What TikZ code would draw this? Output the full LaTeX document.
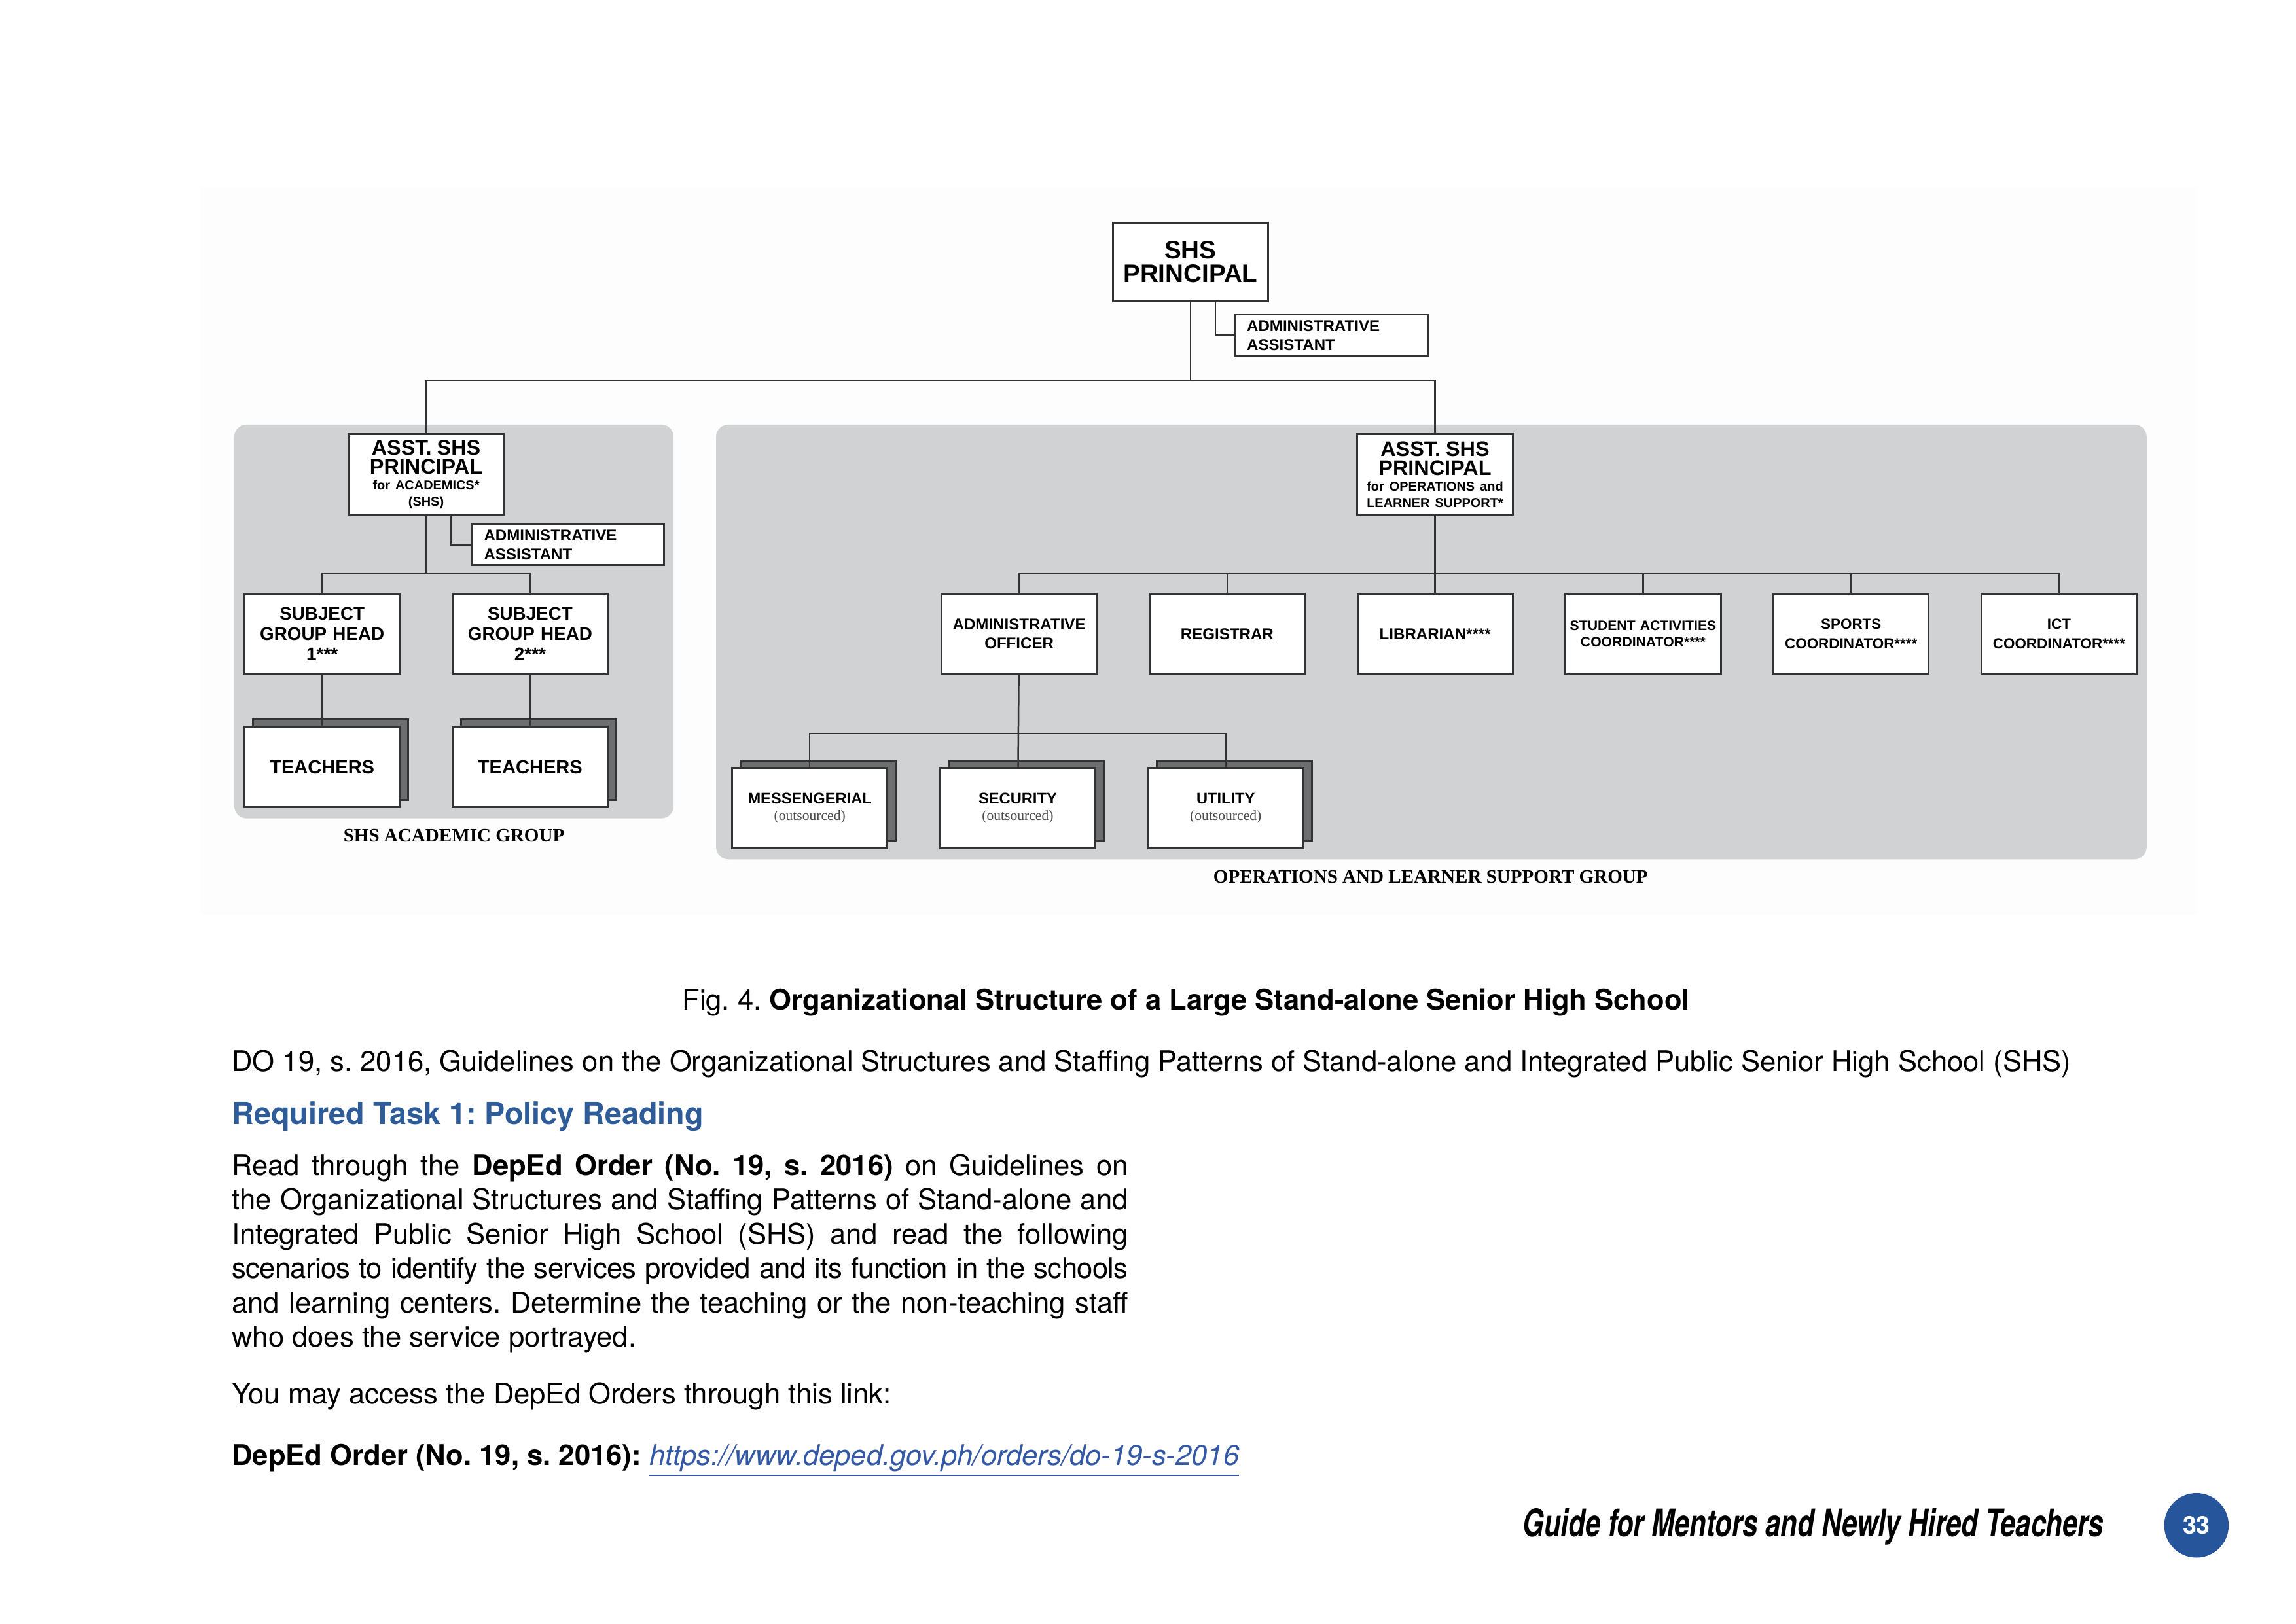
\documentclass[tikz,border=0pt]{standalone}
\usepackage{fontspec}
\setmainfont{TeX Gyre Heros}
\newfontfamily\boxfont{Liberation Sans}
\newfontfamily\slabfont{Liberation Serif}
\newfontfamily\tightfont[LetterSpace=-1.5]{TeX Gyre Heros}
\usepackage{xcolor}
\usepackage{graphicx}
\usetikzlibrary{positioning, shadows}
\definecolor{panelgray}{HTML}{D1D2D4}
\definecolor{shadowgray}{HTML}{6D6E70}
\definecolor{linegray}{HTML}{333333}
\definecolor{headblue}{HTML}{2E5C99}
\definecolor{linkblue}{HTML}{3358A6}
\definecolor{pageblue}{HTML}{26559B}
\newcommand{\setfs}[2]{\fontsize{#1}{#2}\selectfont}
\frenchspacing

\begin{document}
\begin{tikzpicture}[
        x=0.018941cm, y=-0.018941cm,
        node distance=0.657cm,
        box/.style={rectangle, draw=linegray, line width=0.7pt, fill=white, minimum width=2.008cm, minimum height=1.042cm, text width=2cm, inner xsep=0pt, inner ysep=1pt, align=center, font=\boxfont\bfseries\setfs{5.8}{7}},
        sidebox/.style={rectangle, draw=linegray, line width=0.7pt, fill=white, anchor=west, minimum width=2.5cm, minimum height=0.53cm, text width=2.2cm, inner xsep=0.15cm, inner ysep=0pt, align=left, font=\boxfont\bfseries\setfs{5.8}{7}},
        stackbox/.style={box, general shadow={shadow xshift=0.11cm, shadow yshift=0.095cm, fill=shadowgray, draw=linegray, line width=0.7pt}},
        link/.style={draw=linegray, line width=0.6pt},
        panel/.style={fill=panelgray, rounded corners=0.16cm},
        grouplabel/.style={font=\slabfont\bfseries\setfs{7}{8}},
        body/.style={font=\setfs{10.5}{12.62}, inner sep=0pt}
    ]
        \fill[white] (0,0) rectangle (1568,1109);
        \useasboundingbox (0,0) rectangle (1568,1109);
        \fill[black!0.6] (137,128) rectangle (1500,625);
        \fill[panel] (160,290) rectangle (460,559);
        \fill[panel] (489,290) rectangle (1466,587);

        \node[box, minimum height=1.023cm, font=\boxfont\bfseries\setfs{9.3}{8.6}] (principal) at (813,179) {SHS\\PRINCIPAL};
        \node[sidebox] (assistant) at (843,229) {ADMINISTRATIVE\\ASSISTANT};
        \coordinate (topbus) at (813,260);
        \draw[link] (principal) -- (topbus);
        \draw[link] ([xshift=0.322cm]principal.south) |- (assistant.west);

        % academic group
        \node[box] (acadprincipal) at (291,324) {{\setfs{7.8}{7}ASST. SHS\\PRINCIPAL\par}{\setfs{4.8}{5.9}for ACADEMICS*\\(SHS)\par}};
        \node[sidebox, minimum width=2.48cm, text width=2.18cm] (acadassistant) at (322,372) {ADMINISTRATIVE\\ASSISTANT};
        \draw[link] ([xshift=0.322cm]acadprincipal.south) |- (acadassistant.west);
        \coordinate (acadbus) at (291,392);
        \draw[link] (acadprincipal) -- (acadbus);
        \node[box, font=\boxfont\bfseries\setfs{6.7}{7.5}] (grouphead1) at (220,433) {SUBJECT\\GROUP HEAD\\1***};
        \node[box, font=\boxfont\bfseries\setfs{6.7}{7.5}, right=of grouphead1] (grouphead2) {SUBJECT\\GROUP HEAD\\2***};
        \draw[link] (grouphead1.north) |- (acadbus) -| (grouphead2.north);
        \node[stackbox, font=\boxfont\bfseries\setfs{7}{8}] (teachers1) at (220,524) {TEACHERS};
        \node[stackbox, font=\boxfont\bfseries\setfs{7}{8}] (teachers2) at (362,524) {TEACHERS};
        \draw[link] (grouphead1) -- (teachers1);
        \draw[link] (grouphead2) -- (teachers2);
        \node[grouplabel] (acadlabel) at (310,571) {SHS ACADEMIC GROUP};

        % operations group
        \node[box] (opsprincipal) at (980,324) {{\setfs{7.8}{7}ASST. SHS\\PRINCIPAL\par}{\setfs{4.8}{5.9}for OPERATIONS and\\LEARNER SUPPORT*\par}};
        \draw[link] (acadprincipal.north) |- (topbus) -| (opsprincipal.north);
        \coordinate (opsbus) at (980,392);
        \draw[link] (opsprincipal) -- (opsbus);
        \node[box] (adminofficer) at (696,433) {ADMINISTRATIVE\\OFFICER};
        \node[box, right=of adminofficer] (registrar) {REGISTRAR};
        \node[box, right=of registrar] (librarian) {LIBRARIAN****};
        \node[box, right=of librarian, font=\boxfont\bfseries\setfs{5.1}{6}] (activities) {STUDENT ACTIVITIES\\COORDINATOR****};
        \node[box, right=of activities, font=\boxfont\bfseries\setfs{5.4}{7}] (sports) {SPORTS\\COORDINATOR****};
        \node[box, right=of sports, font=\boxfont\bfseries\setfs{5.4}{7}] (ict) {ICT\\COORDINATOR****};
        \draw[link] (adminofficer.north) |- (opsbus) -| (ict.north);
        \foreach \n in {registrar, librarian, activities, sports}
            \draw[link] (\n.north) -- (\n.north |- opsbus);

        \node[stackbox] (messengerial) at (553,552) {{\setfs{5.7}{7}MESSENGERIAL\par}{\slabfont\mdseries\color{black!70}\setfs{5.2}{6}(outsourced)\par}};
        \node[stackbox, right=of messengerial] (security) {{\setfs{5.7}{7}SECURITY\par}{\slabfont\mdseries\color{black!70}\setfs{5.2}{6}(outsourced)\par}};
        \node[stackbox, right=of security] (utility) {{\setfs{5.7}{7}UTILITY\par}{\slabfont\mdseries\color{black!70}\setfs{5.2}{6}(outsourced)\par}};
        \coordinate (supportbus) at (696,501);
        \draw[link] (adminofficer) -- (security);
        \draw[link] (messengerial.north) |- (supportbus) -| (utility.north);
        \node[grouplabel] (opslabel) at (977,599) {OPERATIONS AND LEARNER SUPPORT GROUP};

        % page text
        \node[body, anchor=base] (caption) at (810,690) {Fig. 4. \textbf{Organizational Structure of a Large Stand-alone Senior High School}};
        \node[body, anchor=base west] (source) at (158,732) {DO 19, s. 2016, Guidelines on the Organizational Structures and Staffing Patterns of Stand-alone and Integrated Public Senior High School (SHS)};
        \node[body, anchor=base west, text=headblue, font=\bfseries\setfs{11.25}{13}] (task) at (158,768) {Required Task 1: Policy Reading};
        \node[body, anchor=north west, text width=11.59cm, align=justify] (reading) at (158,788) {Read through the \textbf{DepEd Order (No. 19, s. 2016)} on Guidelines on\linebreak the Organizational Structures and Staffing Patterns of Stand-alone and\linebreak Integrated Public Senior High School (SHS) and read the following\linebreak {\tightfont scenarios to identify the services provided and its function in the schools}\linebreak and learning centers. Determine the teaching or the non-teaching staff\linebreak who does the service portrayed.};
        \node[body, anchor=base west] (access) at (158,959) {You may access the DepEd Orders through this link:};
        \node[body, anchor=base west] (order) at (158,1001) {\textbf{DepEd Order (No. 19, s. 2016):} \textcolor{linkblue}{\underline{\itshape https://www.deped.gov.ph/orders/do-19-s-2016}}};

        \node[anchor=east, inner sep=0pt] (guide) at (1437,1043) {\scalebox{0.72}[1]{\bfseries\itshape\setfs{14}{16}Guide for Mentors and Newly Hired Teachers}};
        \node[circle, fill=pageblue, minimum size=0.834cm, inner sep=0pt, text=white, font=\bfseries\setfs{9}{10}] (pagenum) at (1500,1042) {33};
    \end{tikzpicture}
\end{document}
